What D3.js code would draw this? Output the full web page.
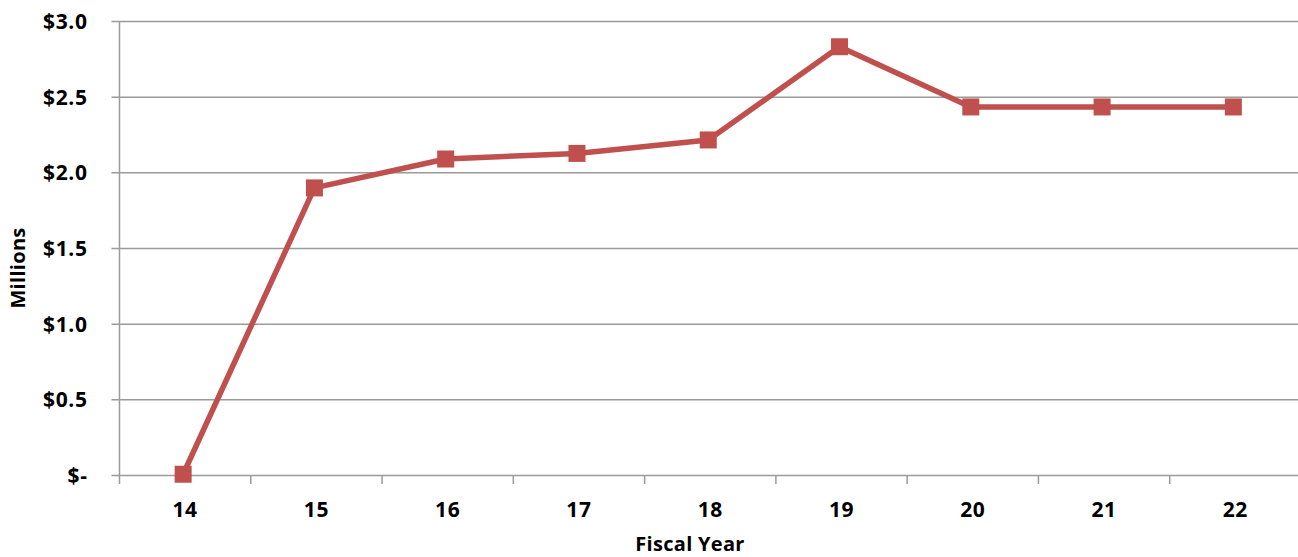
<!DOCTYPE html>
<html>
<head>
<meta charset="utf-8">
<script src="https://cdn.jsdelivr.net/npm/d3@7"></script>
<style>
  html, body { margin: 0; padding: 0; background: #fff; }
  svg { display: block; }
  text { font-family: "Open Sans", Lato, sans-serif; font-weight: bold; fill: #000; }
</style>
</head>
<body>
<svg id="chart" width="1298" height="557"></svg>
<script>
// Fiscal years (two-digit labels) and program funding in millions of dollars
const years = ["14", "15", "16", "17", "18", "19", "20", "21", "22"];
const funding = [0.005, 1.897, 2.088, 2.125, 2.214, 2.83, 2.432, 2.432, 2.432];
const yTicks = [0, 0.5, 1.0, 1.5, 2.0, 2.5, 3.0];
const yTickLabels = ["$-", "$0.5", "$1.0", "$1.5", "$2.0", "$2.5", "$3.0"];

const svg = d3.select("#chart");
const plotLeft = 119.5, plotRight = 1301, plotTop = 21, plotBottom = 475;

const x = d3.scaleBand().domain(years).range([plotLeft, plotRight]).padding(0);
const y = d3.scaleLinear().domain([0, 3]).range([plotBottom, plotTop]);

const gridColor = "#9a9a9a";

// horizontal gridlines with short outward ticks
const yAxis = d3.axisLeft(y)
  .tickValues(yTicks)
  .tickSize(-(1298 - plotLeft))
  .tickSizeOuter(0)
  .tickFormat((d, i) => yTickLabels[i]);

const gy = svg.append("g").attr("transform", `translate(${plotLeft},0)`).call(yAxis);
gy.select(".domain").remove();
gy.selectAll(".tick line")
  .attr("x1", -8)
  .attr("stroke", gridColor)
  .attr("stroke-width", 1.5);
gy.selectAll(".tick text")
  .attr("x", -32)
  .attr("dy", "0.36em")
  .style("font-size", "21px")
  .style("letter-spacing", "0.6px");

// vertical axis line, running a little below the baseline
svg.append("line")
  .attr("x1", plotLeft).attr("x2", plotLeft)
  .attr("y1", plotTop).attr("y2", plotBottom + 9)
  .attr("stroke", gridColor).attr("stroke-width", 1.5);

// category tick marks at band boundaries
const boundaries = years.map(d => x(d)).concat([x(years[years.length - 1]) + x.bandwidth()]);
svg.append("g").selectAll("line")
  .data(boundaries.slice(1, -1))
  .join("line")
  .attr("x1", d => d).attr("x2", d => d)
  .attr("y1", plotBottom).attr("y2", plotBottom + 9)
  .attr("stroke", gridColor).attr("stroke-width", 1.5);

// category labels
svg.append("g").selectAll("text")
  .data(years)
  .join("text")
  .attr("x", d => x(d) + x.bandwidth() / 2)
  .attr("y", 517)
  .attr("text-anchor", "middle")
  .style("font-size", "21px")
  .style("letter-spacing", "0.6px")
  .text(d => d);

// axis titles
svg.append("text")
  .attr("x", 690).attr("y", 551)
  .attr("text-anchor", "middle")
  .style("font-size", "20px")
  .style("letter-spacing", "0.3px")
  .text("Fiscal Year");

svg.append("text")
  .attr("transform", "translate(25,268) rotate(-90)")
  .attr("text-anchor", "middle")
  .style("font-size", "20px")
  .style("letter-spacing", "0.3px")
  .text("Millions");

// funding line and square markers
const cx = d => x(d) + x.bandwidth() / 2 - 2;
const color = "#C0504D";

svg.append("path")
  .datum(funding)
  .attr("fill", "none")
  .attr("stroke", color)
  .attr("stroke-width", 5.5)
  .attr("stroke-linejoin", "round")
  .attr("d", d3.line().x((d, i) => cx(years[i])).y(d => y(d)));

const m = 17;
svg.append("g").selectAll("rect")
  .data(funding)
  .join("rect")
  .attr("x", (d, i) => cx(years[i]) - m / 2)
  .attr("y", d => y(d) - m / 2)
  .attr("width", m).attr("height", m)
  .attr("fill", color);
</script>
</body>
</html>
